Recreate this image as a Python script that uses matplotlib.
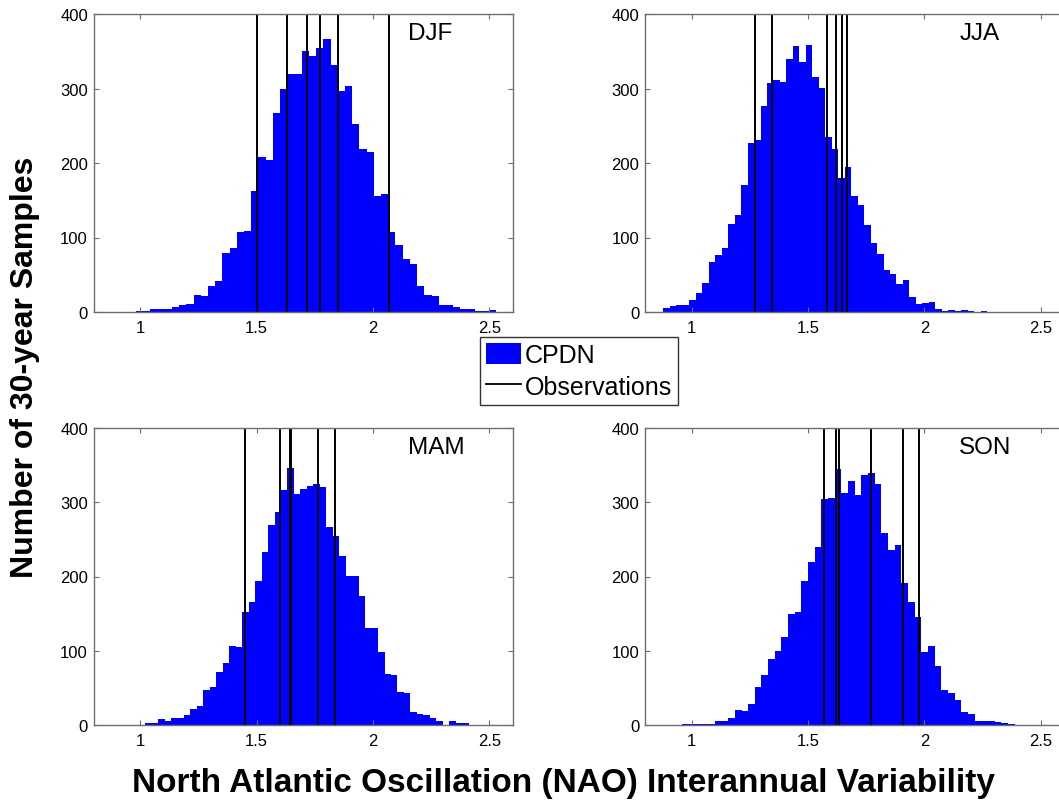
import numpy as np
import matplotlib
matplotlib.use("Agg")
import matplotlib.pyplot as plt
from matplotlib.patches import Patch
from matplotlib.lines import Line2D

plt.rcParams["font.family"] = ["Liberation Sans", "DejaVu Sans"]

# ---- data -------------------------------------------------------------
seasons = ["DJF", "JJA", "MAM", "SON"]

# histogram range (first edge, last edge) of the 50 equal-width bins
range_djf = (0.982, 2.530)
range_jja = (0.879, 2.269)
range_mam = (1.0215, 2.411)
range_son = (0.957, 2.387)

counts_djf = [1, 1, 4, 4, 4, 7, 9, 11, 23, 21,
              35, 41, 79, 86, 108, 109, 162, 208, 204, 267,
              299, 319, 320, 351, 344, 354, 367, 332, 296, 304,
              252, 219, 215, 156, 158, 107, 90, 71, 65, 35,
              23, 21, 9, 10, 7, 4, 4, 1, 1, 3]
counts_jja = [5, 8, 10, 10, 16, 26, 39, 67, 77, 86,
              118, 130, 171, 227, 231, 277, 308, 312, 309, 340,
              357, 335, 358, 316, 301, 235, 219, 180, 194, 156,
              144, 117, 93, 78, 57, 51, 38, 43, 20, 11,
              12, 13, 4, 1, 3, 2, 3, 1, 0, 1]
counts_mam = [3, 3, 8, 6, 9, 10, 14, 22, 25, 47,
              51, 71, 83, 106, 105, 152, 165, 194, 233, 269,
              287, 316, 346, 311, 318, 322, 325, 320, 266, 255,
              228, 201, 201, 174, 130, 131, 98, 69, 68, 44,
              43, 18, 15, 14, 10, 5, 0, 5, 3, 3]
counts_son = [1, 1, 1, 2, 1, 5, 5, 9, 20, 19,
              28, 51, 68, 89, 100, 118, 150, 152, 194, 220,
              240, 305, 306, 345, 313, 328, 310, 337, 340, 325,
              258, 236, 243, 191, 165, 146, 98, 107, 79, 47,
              43, 33, 17, 15, 6, 6, 5, 4, 3, 2]

# observed interannual NAO variability for each season
obs_djf = [1.502, 1.633, 1.716, 1.773, 1.849, 2.067]
obs_jja = [1.271, 1.347, 1.582, 1.620, 1.645, 1.667]
obs_mam = [1.451, 1.599, 1.644, 1.649, 1.765, 1.838]
obs_son = [1.568, 1.620, 1.633, 1.770, 1.909, 1.977]

x_ticks = [1, 1.5, 2, 2.5]
x_tick_labels = ["1", "1.5", "2", "2.5"]
y_ticks = [0, 100, 200, 300, 400]
y_tick_labels = ["0", "100", "200", "300", "400"]

# ---- figure -----------------------------------------------------------
W, H = 1059, 812
fig = plt.figure(figsize=(W / 100, H / 100), dpi=100)
fig.patch.set_facecolor("white")


def px_rect(left, top, right, bottom):
    return [left / W, 1 - bottom / H, (right - left) / W, (bottom - top) / H]


panels = [
    (px_rect(93.5, 15, 512.7, 313), "DJF", range_djf, counts_djf, obs_djf),
    (px_rect(645, 15, 1064.2, 313), "JJA", range_jja, counts_jja, obs_jja),
    (px_rect(93.5, 429, 512.7, 726), "MAM", range_mam, counts_mam, obs_mam),
    (px_rect(645, 429, 1064.2, 726), "SON", range_son, counts_son, obs_son),
]

frame_col = "#6e6e6e"
for rect, name, rng, counts, obs in panels:
    ax = fig.add_axes(rect)
    counts = np.asarray(counts, dtype=float)
    edges = np.linspace(rng[0], rng[1], len(counts) + 1)
    ax.bar(edges[:-1], counts, width=np.diff(edges), align="edge",
           color="#0000ff", edgecolor="none", linewidth=0)
    for v in obs:
        ax.plot([v, v], [0, 400], color="black", lw=1.4, clip_on=False,
                solid_capstyle="butt")
    ax.set_xlim(0.8, 2.6)
    ax.set_ylim(0, 400)
    ax.set_xticks(x_ticks)
    ax.set_xticklabels(x_tick_labels)
    ax.set_yticks(y_ticks)
    ax.set_yticklabels(y_tick_labels)
    ax.tick_params(direction="in", length=3.5, width=0.8, color=frame_col,
                   top=True, right=True, labelsize=12, pad=4)
    ax.tick_params(axis="x", pad=6)
    for s in ax.spines.values():
        s.set_color(frame_col)
        s.set_linewidth(1.0)
    ax.text(2.15, 375, name, fontsize=17.5, ha="left", va="center")

handles = [Patch(facecolor="#0000ff", edgecolor="none"),
           Line2D([], [], color="black", lw=1.3)]
leg = fig.legend(handles, ["CPDN", "Observations"],
                 loc="center", bbox_to_anchor=(579 / W, 1 - 372 / H),
                 fontsize=18, frameon=True, fancybox=False, shadow=False,
                 handlelength=1.4, handleheight=0.95, handletextpad=0.15,
                 borderpad=0.25, labelspacing=0.3, borderaxespad=0)
leg.get_frame().set_edgecolor("black")
leg.get_frame().set_linewidth(1.0)

fig.text(25 / W, 1 - 367 / H, "Number of 30-year Samples", rotation=90,
         ha="center", va="center", fontsize=23, fontweight="bold")
fig.text(563 / W, 1 - 784 / H,
         "North Atlantic Oscillation (NAO) Interannual Variability",
         ha="center", va="center", fontsize=24, fontweight="bold")

fig.savefig("out.png", dpi=100, facecolor="white")
